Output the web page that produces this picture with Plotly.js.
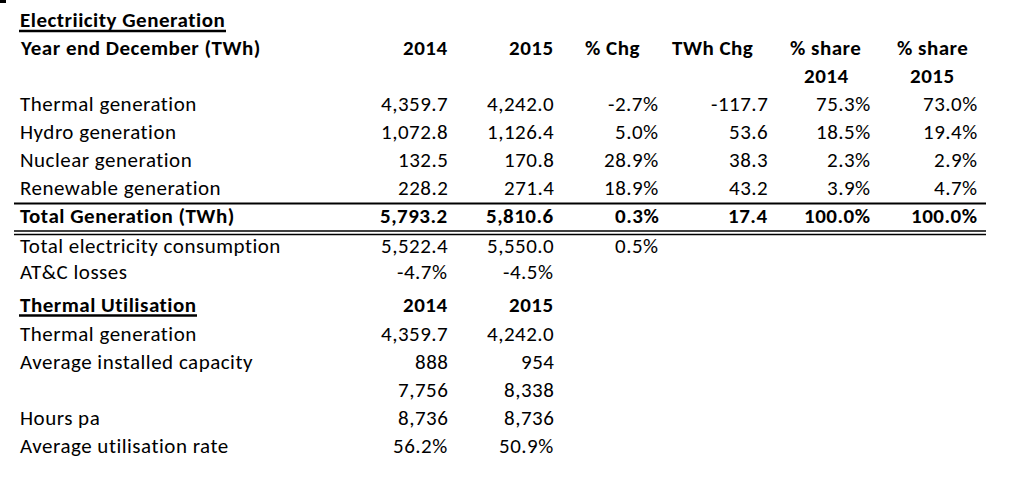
<!DOCTYPE html>
<html><head><meta charset="utf-8">
<script src="https://cdn.plot.ly/plotly-3.0.1.min.js"></script>
<style>html,body{margin:0;padding:0;background:#fff;}#chart{width:1016px;height:494px;}
.annotation-text{letter-spacing:0.5px;}</style>
</head><body><div id="chart"></div>
<script>
// ---- data ----
const title = 'Electriicity Generation';
const subTitle = 'Year end December (TWh)';
const colHeads1 = ['2014', '2015', '% Chg', 'TWh Chg', '% share', '% share'];
const colHeads2 = ['2014', '2015'];
const genLabels = ['Thermal generation', 'Hydro generation', 'Nuclear generation', 'Renewable generation'];
const gen2014 = [4359.7, 1072.8, 132.5, 228.2];
const gen2015 = [4242.0, 1126.4, 170.8, 271.4];
const pctChg = [-2.7, 5.0, 28.9, 18.9];
const twhChg = [-117.7, 53.6, 38.3, 43.2];
const share2014 = [75.3, 18.5, 2.3, 3.9];
const share2015 = [73.0, 19.4, 2.9, 4.7];
const totalLabel = 'Total Generation (TWh)';
const totalRow = [5793.2, 5810.6, 0.3, 17.4, 100.0, 100.0];
const consLabel = 'Total electricity consumption';
const consRow = [5522.4, 5550.0, 0.5];
const lossLabel = 'AT&C losses';
const lossRow = [-4.7, -4.5];
const utilTitle = 'Thermal Utilisation';
const utilYears = ['2014', '2015'];
const utilLabels = ['Thermal generation', 'Average installed capacity', '', 'Hours pa', 'Average utilisation rate'];
const util2014 = [4359.7, 888, 7756, 8736, 56.2];
const util2015 = [4242.0, 954, 8338, 8736, 50.9];
const utilKinds = ['num1', 'int', 'int', 'int', 'pct'];

// ---- formatting ----
const num1 = v => v.toLocaleString('en-US', {minimumFractionDigits: 1, maximumFractionDigits: 1});
const intf = v => v.toLocaleString('en-US', {maximumFractionDigits: 0});
const pct = v => v.toFixed(1) + '%';
const fmt = (k, v) => k === 'num1' ? num1(v) : k === 'int' ? intf(v) : pct(v);

// ---- layout ----
const FONT = 'Carlito, Lato, "Open Sans", sans-serif';
const FS = 21;
const colX = [450, 556, 661, 770, 873, 980];
const leftX = 18;
const ann = [];
function t(x, y, text, anchor, bold, extra) {
  ann.push(Object.assign({x: x, y: y, xref: 'x', yref: 'y', text: bold ? '<b>' + text + '</b>' : text,
    showarrow: false, xanchor: anchor, yanchor: 'middle',
    font: {family: FONT, size: FS, color: '#000'}}, extra || {}));
}
t(leftX, 20, title, 'left', true);
t(leftX, 48, subTitle, 'left', true);
const headX = [450, 556, 642, 755, 825, 932];
headX.forEach((x, i) => t(x, 48, colHeads1[i], i < 4 ? 'right' : 'center', true));
t(826, 76, colHeads2[0], 'center', true);
t(932, 76, colHeads2[1], 'center', true);

const rowY0 = 104, rowH = 28;
genLabels.forEach((lab, i) => {
  const y = rowY0 + i * rowH;
  t(leftX, y, lab, 'left', false);
  t(colX[0], y, num1(gen2014[i]), 'right');
  t(colX[1], y, num1(gen2015[i]), 'right');
  t(colX[2], y, pct(pctChg[i]), 'right');
  t(colX[3], y, num1(twhChg[i]), 'right');
  t(colX[4], y, pct(share2014[i]), 'right');
  t(colX[5], y, pct(share2015[i]), 'right');
});
const yT = 216;
t(leftX, yT, totalLabel, 'left', true);
[num1(totalRow[0]), num1(totalRow[1]), pct(totalRow[2]), num1(totalRow[3]), pct(totalRow[4]), pct(totalRow[5])]
  .forEach((s, i) => t(colX[i], yT, s, 'right', true));
const yC = 246, yL = 272;
t(leftX, yC, consLabel, 'left');
t(colX[0], yC, num1(consRow[0]), 'right');
t(colX[1], yC, num1(consRow[1]), 'right');
t(colX[2], yC, pct(consRow[2]), 'right');
t(leftX, yL, lossLabel, 'left');
t(colX[0], yL, pct(lossRow[0]), 'right');
t(colX[1], yL, pct(lossRow[1]), 'right');

t(leftX, 305, utilTitle, 'left', true);
t(colX[0], 305, utilYears[0], 'right', true);
t(colX[1], 305, utilYears[1], 'right', true);
utilLabels.forEach((lab, i) => {
  const y = 333.5 + i * rowH;
  if (lab) t(leftX, y, lab, 'left');
  t(colX[0], y, fmt(utilKinds[i], util2014[i]), 'right');
  t(colX[1], y, fmt(utilKinds[i], util2015[i]), 'right');
});

const line = (x0, x1, y, w) => ({type: 'line', xref: 'x', yref: 'y', x0: x0, x1: x1, y0: y, y1: y, line: {color: '#000', width: w}});
const shapes = [
  line(19, 226, 31, 2.5),
  line(19, 197, 315.5, 2.5),
  line(14, 986, 203.5, 2),
  line(14, 986, 231, 1.7),
  line(14, 986, 234.5, 1.7),
  {type: 'rect', xref: 'x', yref: 'y', x0: 0, x1: 6, y0: 0, y1: 3, fillcolor: '#000', line: {width: 0}}
];

Plotly.newPlot('chart', [{x: [], y: [], type: 'scatter', mode: 'markers', hoverinfo: 'skip'}], {
  width: 1016, height: 494,
  margin: {l: 0, r: 0, t: 0, b: 0},
  paper_bgcolor: '#fff', plot_bgcolor: '#fff',
  showlegend: false,
  xaxis: {range: [0, 1016], visible: false, fixedrange: true},
  yaxis: {range: [494, 0], visible: false, fixedrange: true},
  annotations: ann, shapes: shapes
}, {staticPlot: true, displayModeBar: false});
</script></body></html>
